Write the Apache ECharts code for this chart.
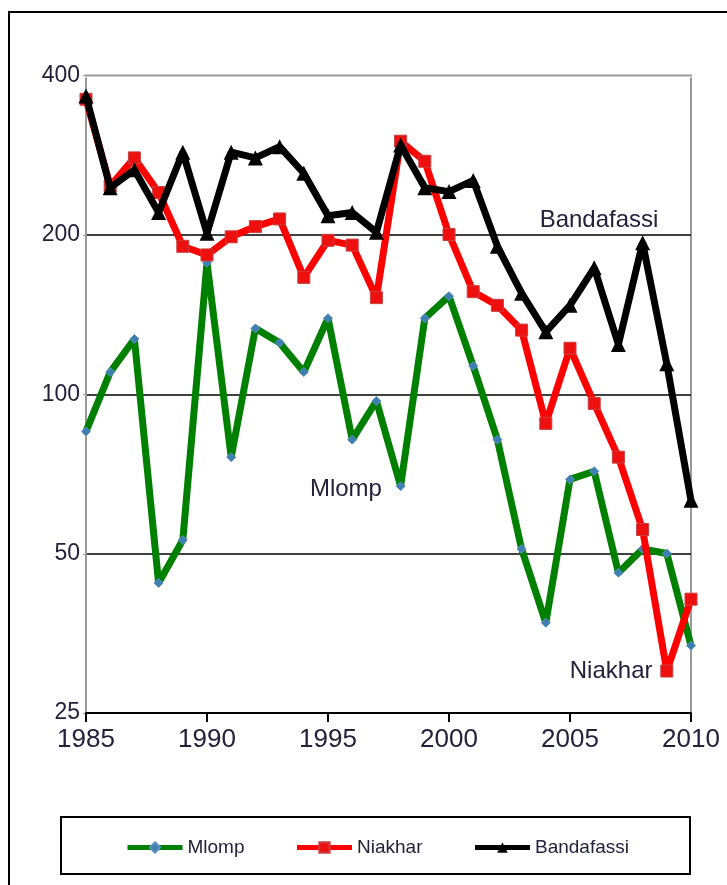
<!DOCTYPE html>
<html>
<head>
<meta charset="utf-8">
<script src="https://cdn.jsdelivr.net/npm/echarts@6/dist/echarts.min.js"></script>
<style>
html,body{margin:0;padding:0;background:#fff;}
#chart{width:727px;height:885px;}
</style>
</head>
<body>
<div id="chart"></div>
<script>
const years = [1985,1986,1987,1988,1989,1990,1991,1992,1993,1994,1995,1996,1997,1998,1999,2000,2001,2002,2003,2004,2005,2006,2007,2008,2009,2010];
const mlomp = [85,110,127,44,53,177,76,133,125,110,139,82,97,67,139,153,113,82,51,37,69,71.5,46,51,50,33.5];
const niakhar = [360,247,279,240,190,183,198,207,214,166,195,191,152,300,275,200,156,147,132,88,122,96,76,55.5,30,41];
const bandafassi = [365,245,265,220,286,201,286,279,293,261,217,220,202,295,245,241,253,190,155,131,147,173,124,193,114,63];
const yTicks = [25,50,100,200,400];
const xTicks = [1985,1990,1995,2000,2005,2010];
const seriesNames = ['Mlomp','Niakhar','Bandafassi'];
const annotations = [
  {name:'Bandafassi', year:2006.2, value:213},
  {name:'Mlomp', year:1995.74, value:66},
  {name:'Niakhar', year:2006.7, value:30}
];

const pairs = arr => years.map((y,i)=>[y,arr[i]]);
const FONT = '"Liberation Sans", Arial, sans-serif';
const TXT = '#22223a';
const nearestTick = v => yTicks.reduce((a,b)=>Math.abs(b-v)<Math.abs(a-v)?b:a);

function annot(name){
  const a = annotations.find(d=>d.name===name);
  return {
    symbol:'circle', symbolSize:2, silent:true,
    itemStyle:{color:'rgba(0,0,0,0)'},
    label:{show:true, position:'inside', formatter:a.name, fontSize:24, fontFamily:FONT, color:TXT},
    data:[{name:a.name, coord:[a.year,a.value]}]
  };
}

const chart = echarts.init(document.getElementById('chart'), null, {renderer:'canvas'});
chart.setOption({
  backgroundColor:'#ffffff',
  animation:false,
  graphic:[
    {type:'rect', shape:{x:9,y:12,width:760,height:920}, style:{fill:'none', stroke:'#000', lineWidth:2}, z:-1},
    {type:'rect', shape:{x:61,y:817,width:629,height:57}, style:{fill:'none', stroke:'#000', lineWidth:2}, z:-1},
    {type:'rect', shape:{x:85,y:73.5,width:607,height:4}, style:{fill:'#fff', stroke:'none'}, z:10},
    {type:'line', shape:{x1:85,y1:75.5,x2:692,y2:75.5}, style:{stroke:'#999', lineWidth:2}, z:11}
  ],
  grid:{left:86, right:36, top:75, bottom:172, show:true, borderColor:'#999', borderWidth:2, backgroundColor:'transparent'},
  legend:{
    left:120, top:833, itemWidth:55, itemHeight:13, itemGap:50,
    lineStyle:{width:5},
    textStyle:{fontSize:19, fontFamily:FONT, color:TXT},
    data:seriesNames
  },
  xAxis:{
    type:'value', min:1985, max:2010, interval:5,
    axisLine:{show:true, lineStyle:{color:'#000', width:2}},
    axisTick:{show:true, length:9, lineStyle:{color:'#000', width:2}},
    axisLabel:{fontSize:26, fontFamily:FONT, color:TXT, margin:14, formatter: v=>String(Math.round(v))},
    splitLine:{show:false}
  },
  yAxis:{
    type:'log', logBase:2, min:25, max:400, interval:1,
    axisLine:{show:true, lineStyle:{color:'#999', width:2}},
    axisTick:{show:true, length:3, lineStyle:{color:'#999', width:1}},
    axisLabel:{fontSize:23, fontFamily:FONT, color:TXT, margin:6, formatter: v=>String(nearestTick(v))},
    splitLine:{show:true, showMinLine:false, showMaxLine:false, lineStyle:{color:'#000', width:1.5}}
  },
  series:[
    {name:'Mlomp', type:'line', data:pairs(mlomp), clip:false,
      symbol:'diamond', symbolSize:9, showSymbol:true,
      lineStyle:{color:'#008000', width:7},
      itemStyle:{color:'#3d7fb0', borderColor:'#5b8fc0', borderWidth:1},
      markPoint:annot('Mlomp'), z:2},
    {name:'Niakhar', type:'line', data:pairs(niakhar), clip:false,
      symbol:'rect', symbolSize:12,
      lineStyle:{color:'#ff0000', width:7},
      itemStyle:{color:'#ee0f0f', borderColor:'#c84040', borderWidth:1},
      markPoint:annot('Niakhar'), z:3},
    {name:'Bandafassi', type:'line', data:pairs(bandafassi), clip:false,
      symbol:'triangle', symbolSize:15,
      lineStyle:{color:'#000000', width:7},
      itemStyle:{color:'#000000'},
      markPoint:annot('Bandafassi'), z:4}
  ]
});
</script>
</body>
</html>
